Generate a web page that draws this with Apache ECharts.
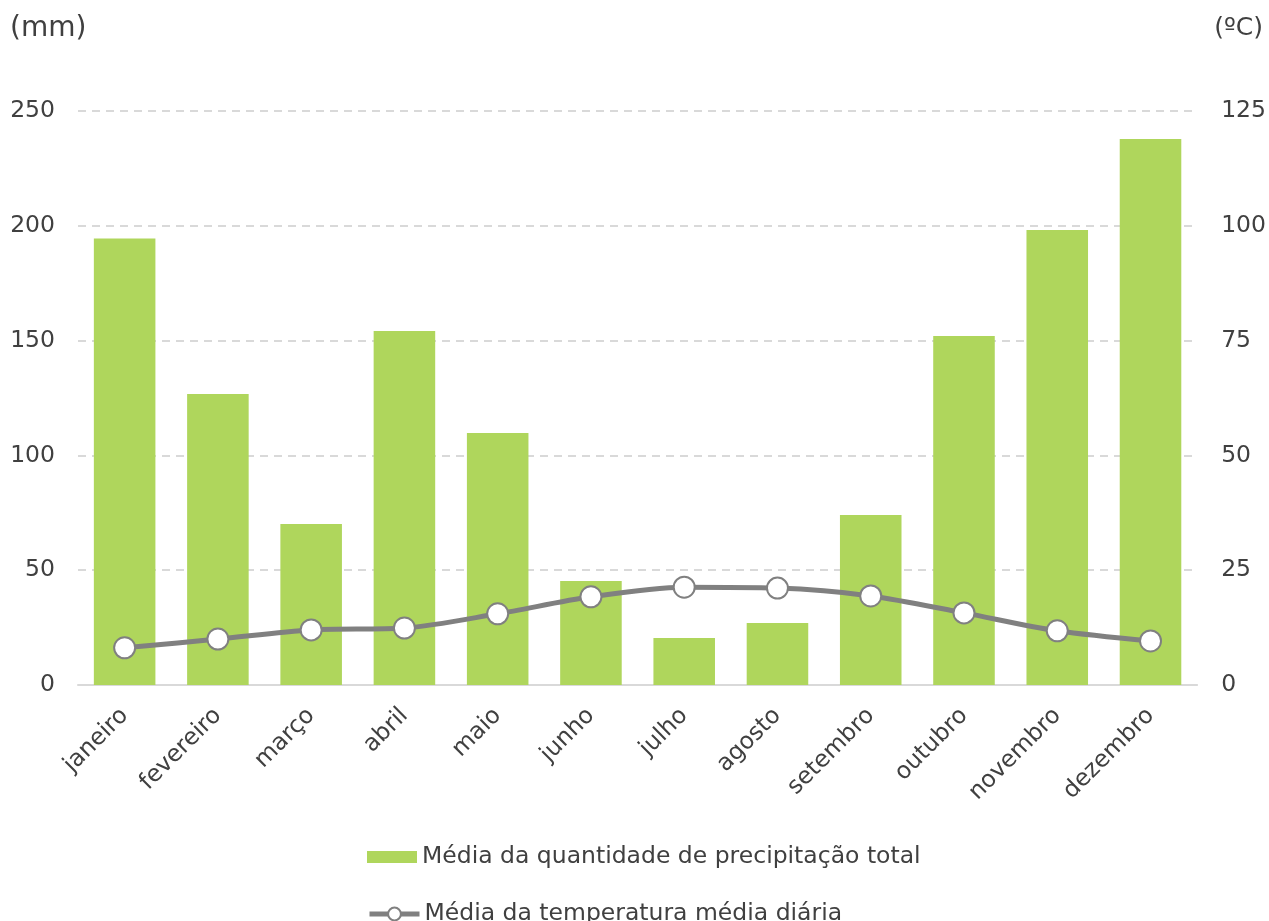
<!DOCTYPE html>
<html>
<head>
<meta charset="utf-8">
<script src="https://cdn.jsdelivr.net/npm/echarts@6/dist/echarts.min.js"></script>
<style>
  html, body { margin: 0; padding: 0; background: #fff; }
  #chart { width: 1269px; height: 921px; }
</style>
</head>
<body>
<div id="chart"></div>
<script>
// Monthly climate normals: precipitation (mm) and mean daily temperature (ºC)
const months = ['janeiro', 'fevereiro', 'março', 'abril', 'maio', 'junho',
                'julho', 'agosto', 'setembro', 'outubro', 'novembro', 'dezembro'];
const precipitation = [194.5, 126.7, 70.1, 154.2, 109.8, 45.3, 20.5, 27.0, 74.0, 152.0, 198.2, 237.8];
const temperature = [8.1, 10.0, 12.0, 12.4, 15.5, 19.2, 21.3, 21.1, 19.4, 15.7, 11.8, 9.6];
const precipName = 'Média da quantidade de precipitação total';
const tempName = 'Média da temperatura média diária';

const textColor = '#404040';
const fontFamily = 'Verdana, "DejaVu Sans", sans-serif';

const chart = echarts.init(document.getElementById('chart'));
chart.setOption({
  backgroundColor: '#ffffff',
  textStyle: { fontFamily: fontFamily, color: textColor },
  grid: { left: 78, right: 71, top: 111, bottom: 236, containLabel: false },
  graphic: [
    { type: 'text', left: 10, top: 15,
      style: { text: '(mm)', fontSize: 28, fill: textColor, fontFamily: fontFamily } },
    { type: 'text', right: 6, top: 16,
      style: { text: '(ºC)', fontSize: 25, fill: textColor, fontFamily: fontFamily } }
  ],
  legend: [
    {
      data: [{ name: precipName, icon: 'rect' }], left: 362, top: 840, orient: 'horizontal',
      itemWidth: 50, itemHeight: 12, itemGap: 8,
      textStyle: { fontSize: 23.5, color: textColor, fontFamily: fontFamily }
    },
    {
      data: [tempName], left: 362, top: 897, orient: 'horizontal',
      itemWidth: 50, itemHeight: 16, itemGap: 8,
      lineStyle: { color: '#808080', width: 5 },
      itemStyle: { color: '#ffffff', borderColor: '#808080', borderWidth: 2 },
      textStyle: { fontSize: 23.5, color: textColor, fontFamily: fontFamily }
    }
  ],
  xAxis: {
    type: 'category',
    data: months,
    axisLine: { lineStyle: { color: '#d9d9d9', width: 2 } },
    axisTick: { show: false },
    axisLabel: { rotate: 45, fontSize: 23.5, color: textColor, margin: 27, interval: 0 }
  },
  yAxis: [
    {
      type: 'value', min: 0, max: 250, interval: 50,
      axisLine: { show: false }, axisTick: { show: false },
      axisLabel: { fontSize: 23.5, color: textColor, margin: 23 },
      splitLine: { lineStyle: { color: '#d9d9d9', type: [8, 6], width: 2 } }
    },
    {
      type: 'value', min: 0, max: 125, interval: 25,
      axisLine: { show: false }, axisTick: { show: false },
      axisLabel: { fontSize: 23.5, color: textColor, margin: 24 },
      splitLine: { show: false }
    }
  ],
  series: [
    {
      name: precipName,
      type: 'bar',
      data: precipitation,
      yAxisIndex: 0,
      barWidth: '66%',
      itemStyle: { color: '#afd65c' },
      z: 2
    },
    {
      name: tempName,
      type: 'line',
      data: temperature,
      yAxisIndex: 1,
      smooth: 0.3,
      symbol: 'circle',
      symbolSize: 21,
      lineStyle: { color: '#808080', width: 5 },
      itemStyle: { color: '#ffffff', borderColor: '#808080', borderWidth: 2 },
      z: 3
    }
  ]
});
</script>
</body>
</html>
